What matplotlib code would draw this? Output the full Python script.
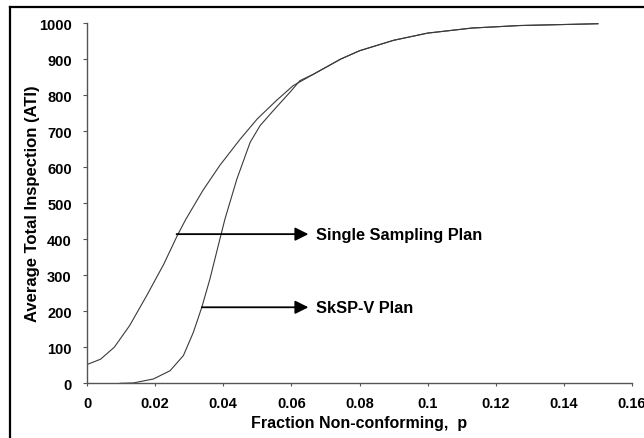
import matplotlib
matplotlib.use('Agg')
import matplotlib.pyplot as plt
from matplotlib.lines import Line2D

# values
ss_p = [0, 0.004, 0.008, 0.0125, 0.0175, 0.0225, 0.0265, 0.029, 0.034, 0.039,
        0.045, 0.050, 0.0555, 0.0605, 0.0665, 0.0745, 0.080, 0.090, 0.100,
        0.113, 0.127, 0.150]
ss_ati = [52, 67, 100, 160, 243, 330, 410, 455, 535, 605,
          678, 734, 784, 826, 858, 900, 923, 952, 972,
          986, 993, 998]

sk_p = [0.0097, 0.0136, 0.0195, 0.0244, 0.0283, 0.0312, 0.0337, 0.0361, 0.039,
        0.0405, 0.044, 0.0479, 0.0508, 0.0547, 0.0596, 0.0625, 0.0665, 0.0745,
        0.080, 0.090, 0.100, 0.113, 0.127, 0.150]
sk_ati = [0, 1, 12, 35, 77, 141, 211, 290, 400,
          456, 567, 669, 715, 757, 808, 840, 858, 900,
          923, 952, 972, 986, 993, 998]

x_ticks = [0, 0.02, 0.04, 0.06, 0.08, 0.1, 0.12, 0.14, 0.16]
x_tick_labels = ['0', '0.02', '0.04', '0.06', '0.08', '0.1', '0.12', '0.14', '0.16']
y_ticks = [0, 100, 200, 300, 400, 500, 600, 700, 800, 900, 1000]

labels = ['Single Sampling Plan', 'SkSP-V Plan']
arrow_start = [(0.0263, 414), (0.0337, 211)]
arrow_end_p = 0.065
text_p = 0.0673

plt.rcParams['font.family'] = ['Liberation Sans', 'DejaVu Sans']
plt.rcParams['font.weight'] = 'bold'

fig = plt.figure(figsize=(6.44, 4.39), dpi=100)
ax = fig.add_axes([0.1351, 0.1246, 0.8463, 0.8207])

ax.plot(ss_p, ss_ati, color='#3a3a3a', lw=0.8)
ax.plot(sk_p, sk_ati, color='#3a3a3a', lw=0.8)

for lab, (p0, v0) in zip(labels, arrow_start):
    ax.annotate('', xy=(arrow_end_p, v0), xytext=(p0, v0),
                arrowprops=dict(arrowstyle='-|>', color='black', lw=1.3,
                                mutation_scale=20, shrinkA=0, shrinkB=0))
    ax.text(text_p, v0, lab, ha='left', va='center', fontsize=11.8,
            fontweight='bold')

ax.set_xlim(0, 0.16)
ax.set_ylim(0, 1000)
ax.set_xticks(x_ticks)
ax.set_xticklabels(x_tick_labels)
ax.set_yticks(y_ticks)

for s in ['top', 'right']:
    ax.spines[s].set_visible(False)
for s in ['left', 'bottom']:
    ax.spines[s].set_color('#555555')
    ax.spines[s].set_linewidth(1.0)

ax.tick_params(axis='both', labelsize=10.5, colors='#555555', labelcolor='black')
ax.tick_params(axis='y', length=3, pad=8)
ax.tick_params(axis='x', length=2, pad=7)
for t in ax.get_xticklabels() + ax.get_yticklabels():
    t.set_fontweight('bold')

ax.set_xlabel('Fraction Non-conforming,  p', fontsize=11.5, fontweight='bold')
ax.set_ylabel('Average Total Inspection (ATI)', fontsize=12, fontweight='bold')
ax.xaxis.set_label_coords(0.5, -0.088)
ax.yaxis.set_label_coords(-0.086, 0.5)

# frame around the picture (only left and top edges show)
fig.add_artist(Line2D([10 / 644, 1.0], [1 - 8 / 439, 1 - 8 / 439],
                      transform=fig.transFigure, color='black', lw=1.6))
fig.add_artist(Line2D([10 / 644, 10 / 644], [0.0, 1 - 8 / 439],
                      transform=fig.transFigure, color='black', lw=1.6))

fig.savefig('out.png', dpi=100)
